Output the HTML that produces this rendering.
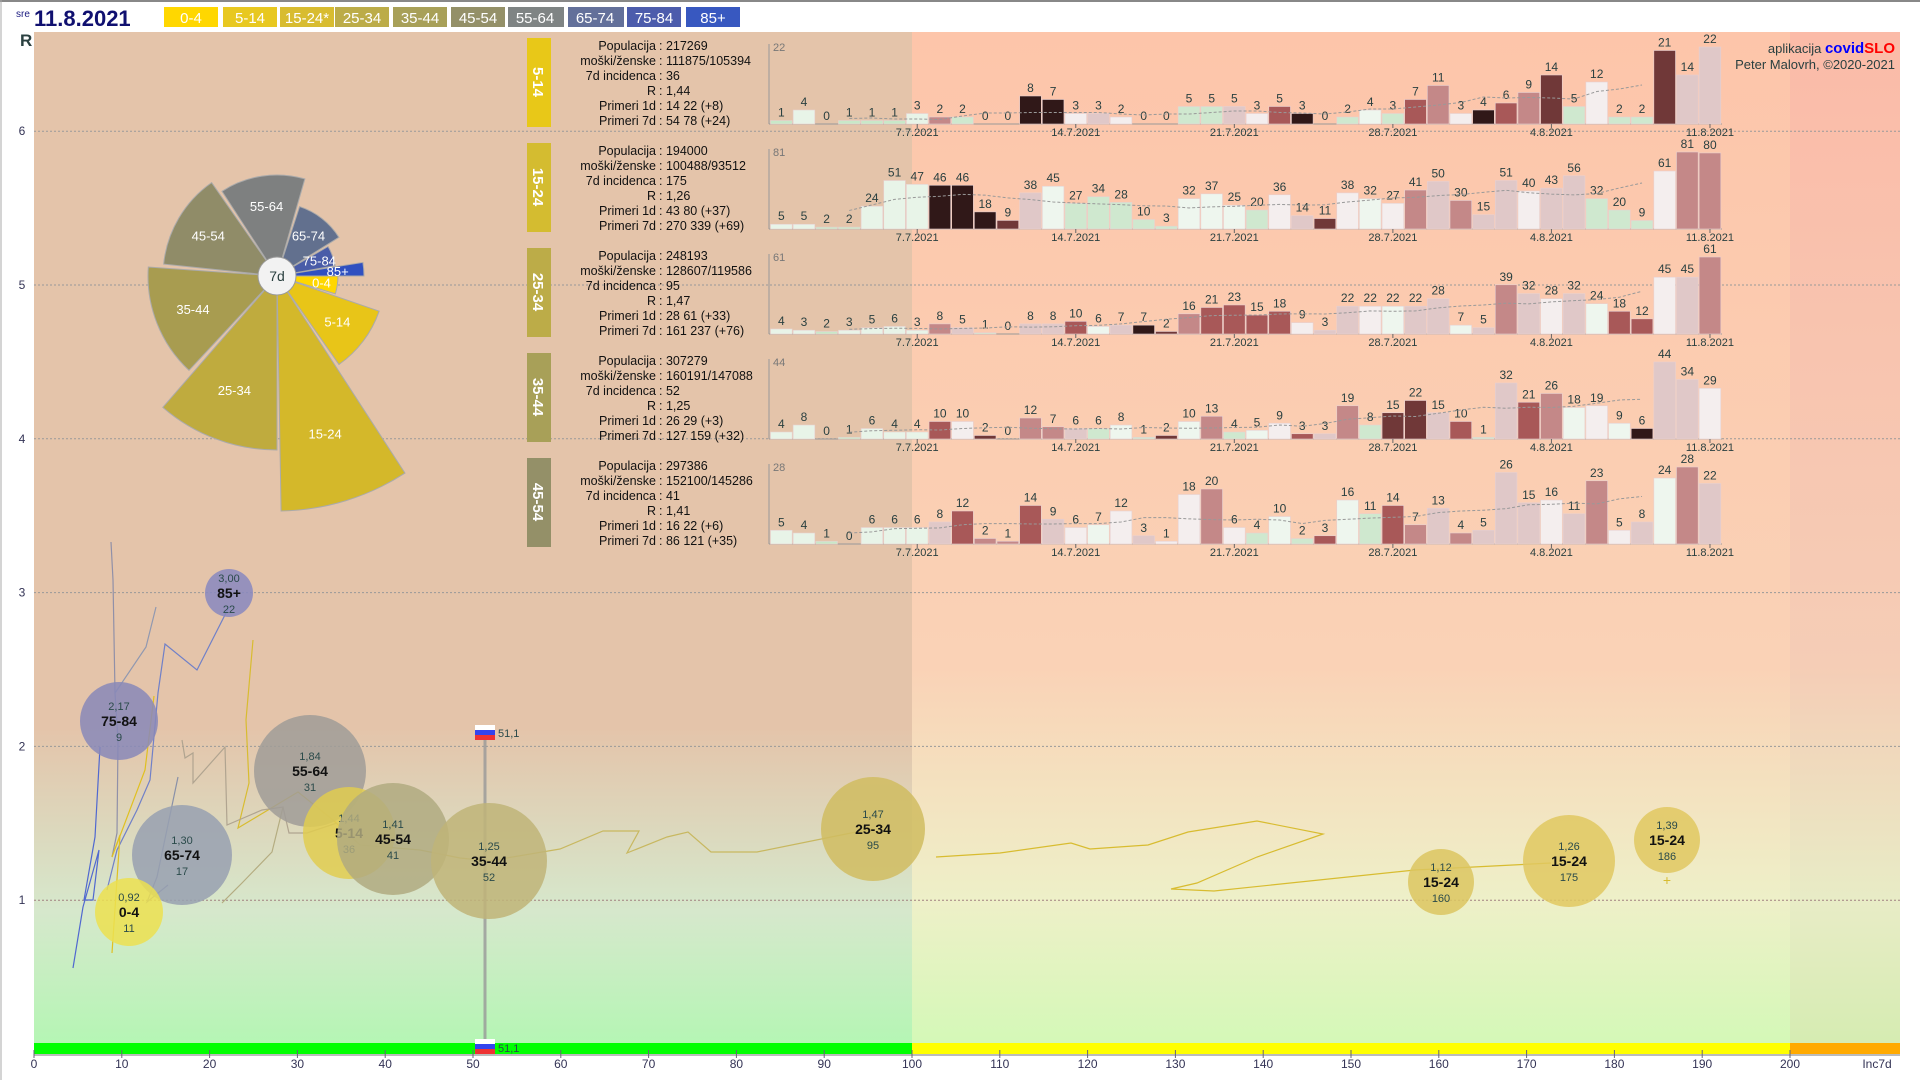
<!DOCTYPE html>
<html><head><meta charset="utf-8"><style>
html,body{margin:0;padding:0;background:#fff;}
svg{display:block;font-family:"Liberation Sans",sans-serif;}
</style></head><body>
<svg id="s" width="1920" height="1080" viewBox="0 0 1920 1080" xmlns="http://www.w3.org/2000/svg">
<defs>
<linearGradient id="gL" x1="0" y1="0" x2="0" y2="1">
<stop offset="0" stop-color="#e4c4aa"/><stop offset="0.68" stop-color="#e4c4aa"/><stop offset="0.86" stop-color="#d6e8cc"/><stop offset="1" stop-color="#b2f7b2"/></linearGradient>
<linearGradient id="gR" x1="0" y1="0" x2="0" y2="1">
<stop offset="0" stop-color="#fdc5aa"/><stop offset="0.62" stop-color="#fad2b6"/><stop offset="0.85" stop-color="#eef0c8"/><stop offset="1" stop-color="#d2f9b6"/></linearGradient>
<linearGradient id="gF" x1="0" y1="0" x2="0" y2="1">
<stop offset="0" stop-color="#fbbba8"/><stop offset="0.62" stop-color="#f5cdb6"/><stop offset="0.85" stop-color="#e8ecc6"/><stop offset="1" stop-color="#d4ecb0"/></linearGradient>
</defs>
<rect x="0" y="0" width="1920" height="1080" fill="#fff"/>
<line x1="0" y1="1" x2="1920" y2="1" stroke="#888" stroke-width="2"/>
<line x1="1" y1="0" x2="1" y2="1080" stroke="#aaa"/>
<rect x="34" y="32" width="878" height="1023" fill="url(#gL)"/>
<rect x="912" y="32" width="878" height="1023" fill="url(#gR)"/>
<rect x="1790" y="32" width="110" height="1023" fill="url(#gF)"/>
<g id="grid"></g>
<rect x="34" y="1043" width="878" height="12" fill="#00ff00"/>
<rect x="912" y="1043" width="878" height="12" fill="#ffff00"/>
<rect x="1790" y="1043" width="110" height="12" fill="#ffaa00"/>
<line x1="34" y1="1055" x2="1900" y2="1055" stroke="#bbb" stroke-width="2"/>
<g id="ax" font-size="12" fill="#335"></g>
<text x="20" y="46" font-size="17" font-weight="bold" fill="#2a4040">R</text>
<!-- header -->
<text x="16" y="17" font-size="10" fill="#1a1a80">sre</text>
<text x="34" y="26" font-size="22" font-weight="bold" fill="#101070">11.8.2021</text>
<g id="leg" font-size="15" fill="#fff" text-anchor="middle"></g>
<text x="1895" y="53" font-size="13" text-anchor="end" fill="#2a4040">aplikacija <tspan fill="#0000ff" font-weight="bold" font-size="15">covid</tspan><tspan fill="#ff0000" font-weight="bold" font-size="15">SLO</tspan></text>
<text x="1895" y="69" font-size="13" text-anchor="end" fill="#2a4040">Peter Malovrh, ©2020-2021</text>
<g id="rose"></g>
<g id="lines" fill="none" stroke-width="1.2"></g>
<g id="panels"></g>
<g id="bub" text-anchor="middle"></g>
</svg>
<script>
const NS="http://www.w3.org/2000/svg";
function el(p,t,a,txt){const e=document.createElementNS(NS,t);for(const k in a)e.setAttribute(k,a[k]);if(txt!==undefined)e.textContent=txt;document.getElementById(p)?document.getElementById(p).appendChild(e):p.appendChild(e);return e;}
// grid
const yR=r=>1054-153.8*r;
for(let r=1;r<=6;r++){el('grid','line',{x1:34,x2:1900,y1:yR(r),y2:yR(r),stroke:r==1?'#a08080':'#999',"stroke-dasharray":"2,2","stroke-width":1});
 el('ax','text',{x:22,y:yR(r)+4,"text-anchor":"middle"},r);}
const xI=v=>34+8.78*v;
for(let v=0;v<=200;v+=10){el('ax','line',{x1:xI(v),x2:xI(v),y1:1050,y2:1058,stroke:'#667'});el('ax','text',{x:xI(v),y:1068,"text-anchor":"middle"},v);}
el('ax','text',{x:1877,y:1068,"text-anchor":"middle"},'Inc7d');
// legend
const L=[["0-4","#ffd700"],["5-14","#e8c820"],["15-24*","#d8bc30"],["25-34","#bcac48"],["35-44","#a8a058"],["45-54","#949068"],["55-64","#7f8484"],["65-74","#63709a"],["75-84","#4c5cac"],["85+","#3858c0"]];
const lx=[164,223,280,335,393,451,508,568,627,686];
L.forEach((l,i)=>{el('leg','rect',{x:lx[i],y:7,width:i==6||i==7?56:54,height:20,fill:l[1]});el('leg','text',{x:lx[i]+27,y:23},l[0]);});
// rose
const cx=277,cy=276;
const R=[["0-4",0,17,61,"#ffd700"],["5-14",19,55,108,"#e8c518"],["15-24",57,89,235,"#d4b82a"],["25-34",90,131,174,"#bfab3e"],["35-44",133,184,129,"#a89c50"],["45-54",186,235,114,"#908c68"],["55-64",237,286,101,"#7e8080"],["65-74",288,328,73,"#62708e"],["75-84",330,350,59,"#4a5ca8"],["85+",351,360,87,"#3050c0"]];
const rad=d=>d*Math.PI/180;
R.forEach(s=>{const[a0,a1,r]=[s[1],s[2],s[3]];
 const p=`M${cx},${cy} L${cx+r*Math.cos(rad(a0))},${cy+r*Math.sin(rad(a0))} A${r},${r} 0 0 1 ${cx+r*Math.cos(rad(a1))},${cy+r*Math.sin(rad(a1))} Z`;
 el('rose','path',{d:p,fill:s[4],stroke:'#aaa',"stroke-width":1});
 const am=(a0+a1)/2, rl=Math.max(r*0.7,45);
 el('rose','text',{x:cx+rl*Math.cos(rad(am)),y:cy+rl*Math.sin(rad(am))+5,"text-anchor":"middle","font-size":13,fill:"#fff"},s[0]);});
el('rose','circle',{cx:cx,cy:cy,r:19,fill:'#f2f2f2',stroke:'#999'});
el('rose','text',{x:cx,y:cy+5,"text-anchor":"middle","font-size":14,fill:"#2a4040"},'7d');
// lines
const LN=[
["#7080c8","229,607 197,670 165,644 158,693 150,780 137,810 117,850 107,890"],
["#9090a8","111,542 113,580 115,693 118,740 117,833 112,857"],
["#9098b0","156,607 146,647 115,693"],
["#5068d0","100,747 95,837 84,900 93,900 99,850 83,907 73,968"],
["#d8bc30","253,640 246,720 249,783 238,828 298,792 333,820 360,845"],
["#e0c020","154,696 145,770 112,857 120,835 112,953"],
["#b0a490","182,740 185,758 193,753 193,783 225,747 227,825 262,810 283,807 289,833 307,833 337,823"],
["#b4ac80","222,903 242,883 272,852 283,807"],
["#8890a8","178,777 157,877 147,902 168,885"],
["#c8b860","360,845 420,850 460,858 489,861 560,849 603,831 639,831 627,853 667,837 688,832 711,852 757,852 851,833 873,829"],
["#d8bc30","936,857 1000,853 1071,843 1090,849 1148,845 1188,832 1257,821 1323,834 1257,857 1197,883 1171,889 1214,891 1415,870 1551,863"]];
LN.forEach(l=>el('lines','polyline',{points:l[1],stroke:l[0]}));
// panels
const P=[["5-14","#e8c818",22,["217269","111875/105394","36","1,44","14 22 (+8)","54 78 (+24)"],[1,4,0,1,1,1,3,2,2,0,0,8,7,3,3,2,0,0,5,5,5,3,5,3,0,2,4,3,7,11,3,4,6,9,14,5,12,2,2,21,14,22]],
["15-24","#d4bc30",81,["194000","100488/93512","175","1,26","43 80 (+37)","270 339 (+69)"],[5,5,2,2,24,51,47,46,46,18,9,38,45,27,34,28,10,3,32,37,25,20,36,14,11,38,32,27,41,50,30,15,51,40,43,56,32,20,9,61,81,80]],
["25-34","#bcac48",61,["248193","128607/119586","95","1,47","28 61 (+33)","161 237 (+76)"],[4,3,2,3,5,6,3,8,5,1,0,8,8,10,6,7,7,2,16,21,23,15,18,9,3,22,22,22,22,28,7,5,39,32,28,32,24,18,12,45,45,61]],
["35-44","#a8a058",44,["307279","160191/147088","52","1,25","26 29 (+3)","127 159 (+32)"],[4,8,0,1,6,4,4,10,10,2,0,12,7,6,6,8,1,2,10,13,4,5,9,3,3,19,8,15,22,15,10,1,32,21,26,18,19,9,6,44,34,29]],
["45-54","#949068",28,["297386","152100/145286","41","1,41","16 22 (+6)","86 121 (+35)"],[5,4,1,0,6,6,6,8,12,2,1,14,9,6,7,12,3,1,18,20,6,4,10,2,3,16,11,14,7,13,4,5,26,15,16,11,23,5,8,24,28,22]]];
const labs=["Populacija","moški/ženske","7d incidenca","R","Primeri 1d","Primeri 7d"];
const dates=[[6,"7.7.2021"],[13,"14.7.2021"],[20,"21.7.2021"],[27,"28.7.2021"],[34,"4.8.2021"],[41,"11.8.2021"]];
function col(v,p){if(p===undefined)return v<3?"#c8e8c8":"#e8f4e8";if(p==0)p=0.5;const r=v/p;
 if(r<0.75)return"#cfe8cf";if(r<1.0)return"#eef6ee";if(r<1.3)return"#f4eeee";if(r<1.7)return"#e0c8c8";if(r<2.3)return"#c48888";if(r<3.5)return"#a85858";if(r<6)return"#703838";return"#301818";}
P.forEach((pn,k)=>{const g=el('panels','g',{});const base=124+105*k;
 el(g,'rect',{x:527,y:base-86,width:24,height:89,fill:pn[1]});
 el(g,'text',{x:0,y:0,transform:`translate(533,${base-42}) rotate(90)`,"text-anchor":"middle","font-size":15,"font-weight":"bold",fill:"#fff"},pn[0]);
 labs.forEach((l,i)=>{const y=base-74+15*i;el(g,'text',{x:656,y:y,"text-anchor":"end","font-size":12.5,fill:"#111"},l);el(g,'text',{x:659,y:y,"font-size":12.5,fill:"#111"},": "+pn[3][i]);});
 el(g,'line',{x1:769,x2:769,y1:base-80,y2:base,stroke:'#999'});
 el(g,'line',{x1:769,x2:1722,y1:base,y2:base,stroke:'#999'});
 el(g,'text',{x:773,y:base-73,"font-size":11,fill:"#777"},pn[2]);
 const d=pn[4],bw=22.65,H=77;let avg=[];
 d.forEach((v,i)=>{const x=770+bw*i,h=H*v/pn[2];
  el(g,'rect',{x:x+0.5,y:base-h,width:bw-1,height:h,fill:col(v,d[i-7]),stroke:"#e8d0d0","stroke-width":0.6});
  el(g,'text',{x:x+bw/2,y:base-h-4,"text-anchor":"middle","font-size":12,fill:"#2a4040"},v);
  if(i>=3&&i<=d.length-4){let s=0;for(let j=i-3;j<=i+3;j++)s+=d[j];avg.push((x+bw/2)+","+(base-H*s/7/pn[2]));}});
 el(g,'polyline',{points:avg.join(" "),fill:"none",stroke:"#999","stroke-dasharray":"3,2","stroke-width":1});
 dates.forEach(dt=>{const x=770+bw*(dt[0]+0.5);el(g,'line',{x1:x,x2:x,y1:base,y2:base+4,stroke:'#666'});el(g,'text',{x:x,y:base+12,"text-anchor":"middle","font-size":11,fill:"#2a4040"},dt[1]);});
});
// flag
function flag(x,y){el('bub','rect',{x:x-10,y:y-7,width:20,height:5,fill:"#fff"});el('bub','rect',{x:x-10,y:y-2,width:20,height:5,fill:"#3344ee"});el('bub','rect',{x:x-10,y:y+3,width:20,height:5,fill:"#ee3333"});}
el('bub','line',{x1:485,x2:485,y1:740,y2:1052,stroke:"#999","stroke-width":3,opacity:0.8});
// bubbles
const B=[["85+",229,593,24,"#8888c0","3,00","22"],["75-84",119,721,39,"#8888b8","2,17","9"],["55-64",310,771,56,"#a09c98","1,84","31"],["65-74",182,855,50,"#98a0b0","1,30","17"],["5-14",349,833,46,"#e0cc50","1,44","36"],["45-54",393,839,56,"#b0aa80","1,41","41"],["35-44",489,861,58,"#c0b478","1,25","52"],["0-4",129,912,34,"#ece050","0,92","11"],["25-34",873,829,52,"#d0bc60","1,47","95"],["15-24",1441,882,33,"#dcc660","1,12","160"],["15-24",1569,861,46,"#e0c860","1,26","175"],["15-24",1667,840,33,"#e0c860","1,39","186"]];
B.forEach(b=>{el('bub','circle',{cx:b[1],cy:b[2],r:b[3],fill:b[4],opacity:0.85});
 el('bub','text',{x:b[1],y:b[2]-11,"font-size":11,fill:"#2a4a4a"},b[5]);
 el('bub','text',{x:b[1],y:b[2]+5,"font-size":14,"font-weight":"bold",fill:"#111"},b[0]);
 el('bub','text',{x:b[1],y:b[2]+20,"font-size":11,fill:"#2a4a4a"},b[6]);});
el('bub','text',{x:1667,y:885,"font-size":14,fill:"#d8bc30"},'+');
flag(485,732);el('bub','text',{x:498,y:737,"font-size":11,fill:"#2a4a4a","text-anchor":"start"},'51,1');
flag(485,1046);el('bub','text',{x:498,y:1052,"font-size":11,fill:"#2a4a4a","text-anchor":"start"},'51,1');
</script>
</body></html>
